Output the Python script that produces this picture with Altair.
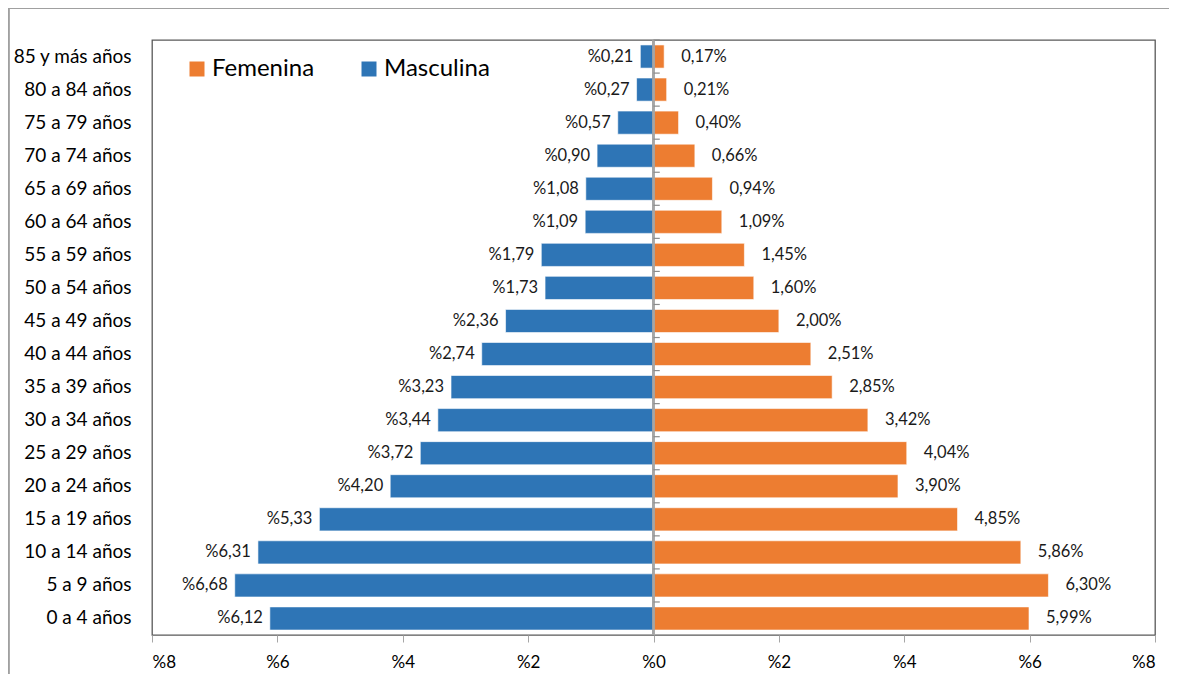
import altair as alt
import pandas as pd

ages = ["85 y más años", "80 a 84 años", "75 a 79 años", "70 a 74 años", "65 a 69 años",
        "60 a 64 años", "55 a 59 años", "50 a 54 años", "45 a 49 años", "40 a 44 años",
        "35 a 39 años", "30 a 34 años", "25 a 29 años", "20 a 24 años", "15 a 19 años",
        "10 a 14 años", "5 a 9 años", "0 a 4 años"]
masculina = [0.21, 0.27, 0.57, 0.90, 1.08, 1.09, 1.79, 1.73, 2.36, 2.74, 3.23, 3.44,
             3.72, 4.20, 5.33, 6.31, 6.68, 6.12]
femenina = [0.17, 0.21, 0.40, 0.66, 0.94, 1.09, 1.45, 1.60, 2.00, 2.51, 2.85, 3.42,
            4.04, 3.90, 4.85, 5.86, 6.30, 5.99]
x_ticks = [-8, -6, -4, -2, 0, 2, 4, 6, 8]

rows = []
for a, m, f in zip(ages, masculina, femenina):
    rows.append({"age": a, "sexo": "Masculina", "x": -m,
                 "label": "%" + f"{m:.2f}".replace(".", ",")})
    rows.append({"age": a, "sexo": "Femenina", "x": f,
                 "label": f"{f:.2f}".replace(".", ",") + "%"})
df = pd.DataFrame(rows)
ages_df = pd.DataFrame({"age": ages})

FONT = "Lato"
GRAY = "#A6A6A6"
yscale = alt.Scale(domain=ages, paddingInner=0.3, paddingOuter=0.15)
xscale = alt.Scale(domain=[-8, 8], nice=False, zero=False)

base = alt.Chart(df)

bars = base.mark_bar(stroke="white", strokeWidth=0.6).encode(
    y=alt.Y("age:N", scale=yscale, sort=ages, title=None,
            axis=alt.Axis(orient="left", domain=False, ticks=False, labelPadding=21,
                          labelFontSize=19, labelColor="black", labelFont=FONT)),
    x=alt.X("x:Q", scale=xscale, title=None,
            axis=alt.Axis(values=x_ticks, labelExpr="'%' + abs(datum.value)",
                          grid=False, domain=False, tickColor=GRAY, tickSize=7,
                          labelPadding=12, labelFontSize=17, labelColor="black",
                          labelFont=FONT)),
    color=alt.Color("sexo:N",
                    scale=alt.Scale(domain=["Femenina", "Masculina"],
                                    range=["#ED7D31", "#2E75B6"]),
                    legend=alt.Legend(title=None, orient="none", legendX=33, legendY=17,
                                      direction="horizontal", symbolType="square",
                                      symbolSize=225, symbolStrokeWidth=0,
                                      labelFontSize=24, labelFont=FONT,
                                      labelColor="black", columnPadding=42,
                                      labelOffset=3)),
)

lab_m = base.transform_filter("datum.sexo == 'Masculina'").mark_text(
    align="right", baseline="middle", dx=-7, fontSize=16.5, font=FONT, color="#1a1a1a"
).encode(y=alt.Y("age:N", scale=yscale, sort=ages), x=alt.X("x:Q", scale=xscale),
         text="label:N")

lab_f = base.transform_filter("datum.sexo == 'Femenina'").mark_text(
    align="left", baseline="middle", dx=17, fontSize=16.5, font=FONT, color="#1a1a1a"
).encode(y=alt.Y("age:N", scale=yscale, sort=ages), x=alt.X("x:Q", scale=xscale),
         text="label:N")

center = alt.Chart(ages_df).mark_rule(color=GRAY, strokeWidth=1.3).encode(
    x=alt.datum(0, scale=xscale),
)

ticks = alt.Chart(ages_df).mark_rule(color="#8C8C8C", strokeWidth=1.2, yOffset=-16.5).encode(
    y=alt.Y("age:N", scale=yscale, sort=ages),
    x=alt.datum(0, scale=xscale),
    x2=alt.datum(0.1),
)

# outer frame lines (top and left edges of the figure box)
frame_top = alt.Chart(ages_df).mark_rule(color="#A0A0A0", strokeWidth=1.2).encode(
    x=alt.value(-144), x2=alt.value(1017), y=alt.value(-31.5)
)
frame_left = alt.Chart(ages_df).mark_rule(color="#A0A0A0", strokeWidth=1.2).encode(
    x=alt.value(-143.5), y=alt.value(-32), y2=alt.value(635)
)

chart = alt.layer(frame_top, frame_left, bars, lab_m, lab_f, center, ticks).properties(
    width=1003, height=595,
    padding={"left": 144, "top": 32, "right": 14, "bottom": 40},
    autosize=alt.AutoSizeParams(type="none"),
).configure_view(stroke="#595959", strokeWidth=1.3)

chart.save("out.html", embed_options={"renderer": "svg", "actions": False})
